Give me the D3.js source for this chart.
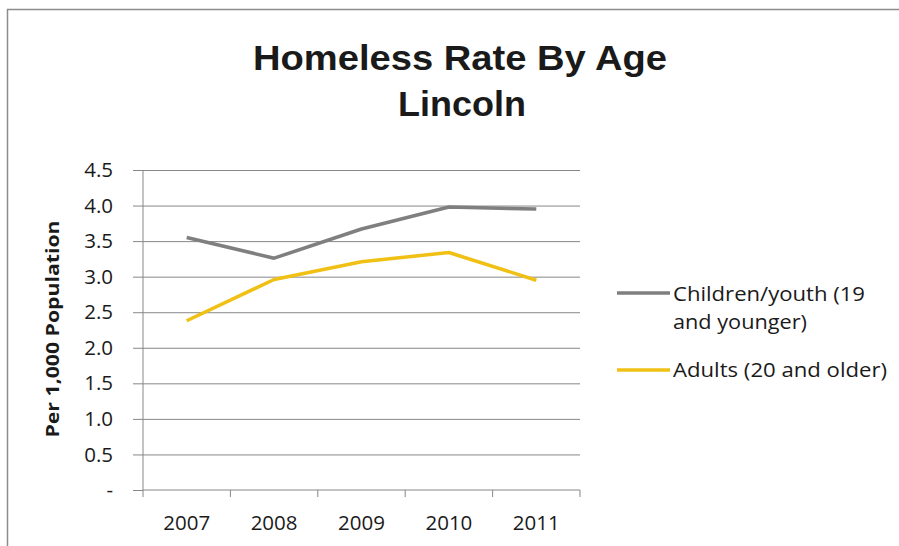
<!DOCTYPE html>
<html>
<head>
<meta charset="utf-8">
<script src="https://cdn.jsdelivr.net/npm/d3@7"></script>
<style>
  html, body { margin: 0; padding: 0; background: #fff; }
  svg { display: block; }
  text { font-family: "Open Sans", "Liberation Sans", Arial, sans-serif; fill: #1a1a1a; }
</style>
</head>
<body>
<svg id="chart" width="899" height="546"></svg>
<script>
const years = ["2007", "2008", "2009", "2010", "2011"];
const childrenValues = [3.55, 3.26, 3.67, 3.98, 3.95];
const adultValues = [2.38, 2.96, 3.21, 3.34, 2.95];
const yTicks = [0, 0.5, 1.0, 1.5, 2.0, 2.5, 3.0, 3.5, 4.0, 4.5];
const legendLabels = [["Children/youth (19", "and younger)"], ["Adults (20 and older)"]];
const titleLines = ["Homeless Rate By Age", "Lincoln"];
const yAxisTitle = "Per 1,000 Population";

const svg = d3.select("#chart");
const plotLeft = 143, plotRight = 580, plotTop = 170, plotBottom = 490;
const gridColor = "#878787";
const colors = ["#7f7f7f", "#f0c014"];

// outer border (cut off on right and bottom)
svg.append("rect").attr("x", 7.5).attr("y", 9.5).attr("width", 1000).attr("height", 1000)
  .attr("fill", "none").attr("stroke", "#8c8c8c").attr("stroke-width", 1.5);

const x = d3.scaleBand().domain(years).range([plotLeft, plotRight]).padding(0);
const y = d3.scaleLinear().domain([0, 4.5]).range([plotBottom, plotTop]);

// gridlines
svg.append("g").attr("transform", `translate(${plotLeft},0)`)
  .call(d3.axisLeft(y).tickValues(yTicks.filter(v => v > 0)).tickSize(-(plotRight - plotLeft)).tickFormat(""))
  .call(g => g.select(".domain").remove())
  .call(g => g.selectAll("line").attr("stroke", gridColor).attr("stroke-width", 1));

// y axis with outside tick marks and labels
svg.append("g").attr("transform", `translate(${plotLeft},0)`)
  .call(d3.axisLeft(y).tickValues(yTicks).tickSize(10).tickPadding(20)
    .tickFormat(v => v === 0 ? "-" : d3.format(".1f")(v)))
  .call(g => g.select(".domain").attr("stroke", gridColor).attr("d", `M0,${plotTop}V${plotBottom}`))
  .call(g => g.selectAll("line").attr("stroke", gridColor))
  .call(g => g.selectAll("text").attr("font-size", 20.5).attr("fill", "#1a1a1a")
    .style("font-family", "'Open Sans', 'Liberation Sans', sans-serif"));

// x axis
const xg = svg.append("g").attr("transform", `translate(0,${plotBottom})`);
xg.append("line").attr("x1", plotLeft).attr("x2", plotRight).attr("y1", 0).attr("y2", 0).attr("stroke", gridColor);
const edges = years.map(d => x(d)).concat([x(years[years.length - 1]) + x.bandwidth()]);
xg.selectAll("line.tk").data(edges).enter().append("line").attr("class", "tk")
  .attr("x1", d => d).attr("x2", d => d).attr("y1", 0).attr("y2", 7).attr("stroke", gridColor);
xg.selectAll("text").data(years).enter().append("text")
  .attr("x", d => x(d) + x.bandwidth() / 2).attr("y", 40)
  .attr("text-anchor", "middle").attr("font-size", 20.5)
  .text(d => d);

// lines
const line = d3.line().x((d, i) => x(years[i]) + x.bandwidth() / 2).y(d => y(d));
[childrenValues, adultValues].forEach((vals, i) => {
  svg.append("path").datum(vals).attr("d", line).attr("fill", "none")
    .attr("stroke", colors[i]).attr("stroke-width", 3.5).attr("stroke-linejoin", "round");
});

// title
svg.append("text").attr("x", 460).attr("y", 70).attr("text-anchor", "middle")
  .style("font-family", "'Liberation Sans', Arial, sans-serif")
  .attr("font-size", 35).attr("font-weight", "bold").attr("fill", "#000")
  .attr("textLength", 414).attr("lengthAdjust", "spacingAndGlyphs").text(titleLines[0]);
svg.append("text").attr("x", 462).attr("y", 116).attr("text-anchor", "middle")
  .style("font-family", "'Liberation Sans', Arial, sans-serif")
  .attr("font-size", 35).attr("font-weight", "bold").attr("fill", "#000")
  .attr("textLength", 128).attr("lengthAdjust", "spacingAndGlyphs").text(titleLines[1]);

// y axis title
svg.append("text").attr("transform", "translate(59,329) rotate(-90)")
  .attr("text-anchor", "middle").attr("font-size", 18).attr("font-weight", "bold").attr("fill", "#000")
  .attr("textLength", 217).attr("lengthAdjust", "spacingAndGlyphs")
  .text(yAxisTitle);

// legend
const legend = svg.append("g");
const legendPos = [
  { ly: 293, ty: [301, 329], widths: [192, 134] },
  { ly: 370, ty: [377], widths: [214] }
];
legendLabels.forEach((lines, i) => {
  const p = legendPos[i];
  legend.append("line").attr("x1", 617).attr("x2", 670).attr("y1", p.ly).attr("y2", p.ly)
    .attr("stroke", colors[i]).attr("stroke-width", 3.5);
  lines.forEach((l, j) => {
    legend.append("text").attr("x", 673).attr("y", p.ty[j]).attr("font-size", 20.5)
      .attr("textLength", p.widths[j]).attr("lengthAdjust", "spacingAndGlyphs").text(l);
  });
});
</script>
</body>
</html>
